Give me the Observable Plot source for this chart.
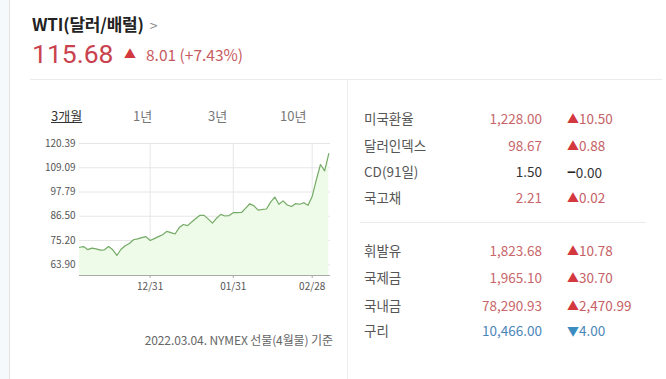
<!DOCTYPE html>
<html><head><meta charset="utf-8">
<script src="https://cdn.jsdelivr.net/npm/d3@7"></script>
<script src="https://cdn.jsdelivr.net/npm/@observablehq/plot@0.6"></script>
<style>
body{margin:0;width:666px;height:379px;background:#fff;position:relative;overflow:hidden;font-family:"Noto Sans CJK KR","Noto Sans",sans-serif;}
.abs{position:absolute;white-space:nowrap;}
.lab{color:#555;font-size:13.5px;left:364px;}
.val{font-size:13.5px;right:124px;text-align:right;}
.chg{font-size:13.5px;left:567px;}
.red{color:#c8666a;}
.blue{color:#4a86b8;}
</style></head>
<body>
<div class="abs" style="left:0;top:0;width:9px;height:379px;background:#f6f9fc;border-right:1px solid #e2e2e2;"></div>
<div class="abs" style="left:30px;top:79px;width:632px;height:1px;background:#ebebeb;"></div>
<div class="abs" style="left:347px;top:80px;width:1px;height:299px;background:#ededed;"></div>
<div class="abs" style="left:360px;top:222px;width:286px;height:1px;background:#ebebeb;"></div>

<div class="abs" style="left:32px;top:14px;line-height:20px;font-size:17px;font-weight:bold;color:#222;letter-spacing:-0.2px;">WTI(달러/배럴)<span style="font-weight:normal;color:#888;font-size:14px;margin-left:6px;">&gt;</span></div>
<div class="abs" style="left:32px;top:39px;line-height:30px;font-family:Roboto,'Noto Sans',sans-serif;font-size:26.5px;color:#c9434f;">115.68</div>
<div class="abs" style="left:124px;top:45px;font-size:12px;color:#d3383f;">▲</div>
<div class="abs" style="left:146px;top:43px;font-size:15.5px;color:#c75a60;">8.01 (+7.43%)</div>

<div class="abs" style="left:51px;top:106px;font-size:13px;color:#333;text-decoration:underline;">3개월</div>
<div class="abs" style="left:133px;top:106px;font-size:13px;color:#777;">1년</div>
<div class="abs" style="left:208px;top:106px;font-size:13px;color:#777;">3년</div>
<div class="abs" style="left:280px;top:106px;font-size:13px;color:#777;">10년</div>

<div id="chart" class="abs" style="left:0;top:130px;"></div>

<div id="caption" class="abs" style="right:333px;top:331px;font-size:12px;color:#666;letter-spacing:-0.1px;"></div>

<div id="table"></div>

<script>
// ---- data ----
const dates = [
  "12/07","12/08","12/09","12/10","12/13","12/14","12/15","12/16","12/17","12/20","12/21","12/22","12/23","12/27","12/28","12/29","12/30","12/31",
  "01/03","01/04","01/05","01/06","01/07","01/10","01/11","01/12","01/13","01/14","01/18","01/19","01/20","01/21","01/24","01/25","01/26","01/27","01/28","01/31",
  "02/01","02/02","02/03","02/04","02/07","02/08","02/09","02/10","02/11","02/14","02/15","02/16","02/17","02/18","02/22","02/23","02/24","02/25","02/28",
  "03/01","03/02","03/03","03/04"
];
const prices = [
  72.05,72.36,70.94,71.67,71.29,70.73,70.87,72.38,70.86,68.23,71.12,72.76,73.79,75.57,75.98,76.56,76.99,75.21,
  76.08,76.99,77.85,79.46,78.90,78.23,81.22,82.64,82.12,83.82,85.43,86.96,86.90,85.14,83.31,85.60,87.35,86.61,86.82,88.15,
  88.20,88.26,90.27,92.31,91.32,89.36,89.66,89.88,93.10,95.46,92.07,93.66,91.76,91.07,92.35,92.10,92.81,91.59,95.72,
  103.41,110.60,107.67,115.68
];
const xTickLabels = ["12/31","01/31","02/28"];
const yTickValues = [63.90, 75.20, 86.50, 97.79, 109.09, 120.39];
const yMin = 58.9;
const captionText = "2022.03.04. NYMEX 선물(4월물) 기준";

const tableLabels = ["미국환율","달러인덱스","CD(91일)","국고채","휘발유","국제금","국내금","구리"];
const tableValues = ["1,228.00","98.67","1.50","2.21","1,823.68","1,965.10","78,290.93","10,466.00"];
const tableChanges = ["10.50","0.88","0.00","0.02","10.78","30.70","2,470.99","4.00"];
const tableDir = ["up","up","flat","up","up","up","up","down"];

// ---- chart ----
const data = prices.map((p, i) => ({i, date: dates[i], price: p}));
const tickIdx = xTickLabels.map(l => dates.indexOf(l));
const xMax = dates.length - 1;

const chart = Plot.plot({
  width: 345,
  height: 165,
  marginLeft: 79,
  marginRight: 15,
  marginTop: 13,
  marginBottom: 20,
  style: {fontFamily: "'Noto Sans CJK KR','Noto Sans',sans-serif", fontSize: "10px", color: "#555", background: "transparent"},
  x: {type: "linear", domain: [0, xMax], range: [79, 328.3]},
  y: {domain: [yMin, yTickValues[yTickValues.length - 1]]},
  marks: [
    Plot.gridY(yTickValues, {stroke: "#e6e6e6", strokeOpacity: 1}),
    Plot.ruleX(tickIdx, {y1: yMin, y2: yTickValues[yTickValues.length - 1], stroke: "#e6e6e6"}),
    Plot.areaY(data, {x: "i", y1: yMin, y2: "price", fill: "#eefbe8"}),
    Plot.lineY(data, {x: "i", y: "price", stroke: "#76aa68", strokeWidth: 1.2}),
    Plot.ruleY([yMin], {stroke: "#aaa"}),
    Plot.axisX(tickIdx, {tickFormat: i => dates[i], tickSize: 3, tickPadding: 4, stroke: "#aaa", fill: "#555", fontSize: 10, label: null}),
    Plot.axisY(yTickValues, {tickFormat: d => d.toFixed(2), tickSize: 0, tickPadding: 4, fill: "#555", fontSize: 10, label: null})
  ]
});
document.getElementById("chart").appendChild(chart);
document.getElementById("caption").textContent = captionText;

// ---- table ----
const rowTops = [108, 135, 161, 187, 240, 267, 295, 320];
const tbl = document.getElementById("table");
tableLabels.forEach((lab, k) => {
  const top = rowTops[k];
  const dir = tableDir[k];
  const valCls = dir === "up" ? "red" : dir === "down" ? "blue" : "";
  const valColor = dir === "flat" ? "color:#333;" : "";
  const sym = dir === "up" ? "▲" : dir === "down" ? "▼" : "−";
  const symColor = dir === "up" ? "#d3383f" : dir === "down" ? "#3b8cc0" : "#222";
  const chgColor = dir === "up" ? "#c56065" : dir === "down" ? "#4a86b8" : "#333";
  tbl.insertAdjacentHTML("beforeend",
    `<div class="abs lab" style="top:${top}px">${lab}</div>` +
    `<div class="abs val ${valCls}" style="top:${top}px;${valColor}">${tableValues[k]}</div>` +
    `<div class="abs chg" style="top:${top}px;color:${chgColor}"><span style="color:${symColor};font-size:${dir==='flat'?'15px':'12px'};${dir==='flat'?'font-weight:bold;':''}">${sym}</span>${tableChanges[k]}</div>`
  );
});
</script>
</body></html>
